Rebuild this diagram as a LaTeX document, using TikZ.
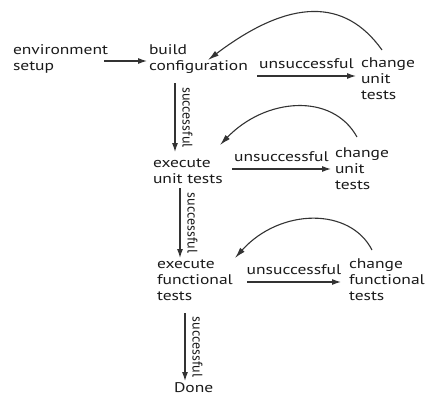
\documentclass[tikz,border=0pt]{standalone}
\usepackage{fontspec}
\setmainfont{PT Sans}[FakeStretch=1.25]
\newfontfamily\uprightlabel{PT Sans}
\usetikzlibrary{arrows.meta}
\definecolor{ink}{HTML}{1A1A1A}
\definecolor{wire}{HTML}{333333}
% left-aligned lines whose baseline is the first line's baseline
\newcommand\rows[1]{\vtop{\baselineskip=16pt\lineskiplimit=-20pt\halign{##\hfil\cr#1\crcr}}}
\begin{document}
\begin{tikzpicture}[x=1pt, y=-1pt,
  txt/.style={inner sep=0pt, outer sep=0pt, anchor=base west, text=ink,
    font=\fontsize{14}{16}\selectfont},
  flow/.style={draw=wire, line width=1.1pt, -{Latex[length=9pt,width=6pt]}},
  back/.style={draw=wire, line width=1.1pt, -{Latex[length=11pt,width=6pt]}},
  fail/.style={midway, anchor=base, yshift=8pt, inner sep=0pt, text=ink,
    font=\fontsize{14}{16}\selectfont},
  pass/.style={midway, rotate=-90, anchor=south, inner xsep=0pt, inner ysep=7pt,
    text=ink, font=\uprightlabel\fontsize{14}{16}\selectfont}]
\useasboundingbox (0,0) rectangle (425,396);

% steps
\node[txt] (env)   at (13,54.5) {\rows{environment\cr setup}};
\node[txt] (build) at (149,55)  {\rows{build\cr configuration}};
\node[txt] (cu1)   at (361,67)  {\rows{change\cr unit\cr tests}};
\node[txt] (exec1) at (153,167) {\rows{execute\cr unit tests}};
\node[txt] (cu2)   at (335,157) {\rows{change\cr unit\cr tests}};
\node[txt] (exec2) at (157,268) {\rows{execute\cr functional\cr tests}};
\node[txt] (cf)    at (349,268) {\rows{change\cr functional\cr tests}};
\node[txt] (done)  at (174,392) {Done};

% forward flow
\draw[flow] ([xshift=91pt,yshift=-6.5pt]env.base west) -- ([xshift=-2pt,yshift=-6pt]build.base west);
\draw[flow] ([xshift=108pt,yshift=-21pt]build.base west) -- node[fail]{unsuccessful} ([xshift=-5pt,yshift=-9pt]cu1.base west);
\draw[flow] ([xshift=26pt,yshift=-28pt]build.base west) -- node[pass]{successful} ([xshift=22pt,yshift=15pt]exec1.base west);
\draw[flow] ([xshift=79pt,yshift=-2pt]exec1.base west) -- node[fail]{unsuccessful} ([xshift=-4pt,yshift=-12pt]cu2.base west);
\draw[flow] ([xshift=27pt,yshift=-21pt]exec1.base west) -- node[pass]{successful} ([xshift=23pt,yshift=10pt]exec2.base west);
\draw[flow] ([xshift=90pt,yshift=-14pt]exec2.base west) -- node[fail]{unsuccessful} ([xshift=-8pt,yshift=-14pt]cf.base west);
\draw[flow] ([xshift=28pt,yshift=-45pt]exec2.base west) -- node[pass]{successful} ([xshift=11pt,yshift=11pt]done.base west);

% loops back after a change
\draw[back] ([xshift=21pt,yshift=17pt]cu1.base west) .. controls +(-37,-52) and +(82,-62) .. ([xshift=59pt,yshift=-5pt]build.base west);
\draw[back] ([xshift=22pt,yshift=20pt]cu2.base west) .. controls +(-25,-45) and +(45,-47) .. ([xshift=67pt,yshift=22pt]exec1.base west);
\draw[back] ([xshift=23pt,yshift=18pt]cf.base west) .. controls +(-22,-43) and +(45,-50) .. ([xshift=78pt,yshift=10pt]exec2.base west);
\end{tikzpicture}
\end{document}
